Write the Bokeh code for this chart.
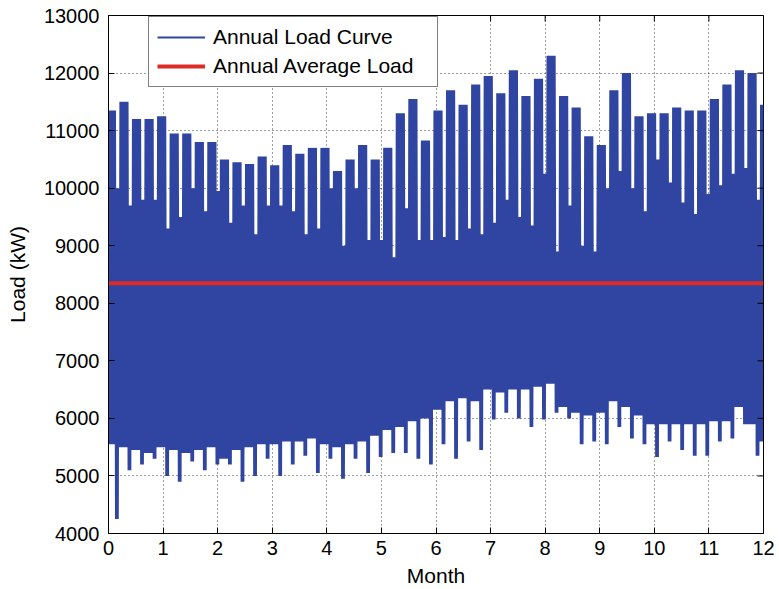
from bokeh.plotting import figure
from bokeh.models import Range1d, FixedTicker, Legend, LegendItem
from bokeh.embed import file_html
from bokeh.resources import INLINE

# ---- data (kW), one value per week (weeks start on Monday, day 0 is a Tuesday)
week_peak = [11350, 11500, 11200, 11200, 11250, 10950, 10950, 10800, 10800, 10500,
             10450, 10420, 10550, 10400, 10750, 10600, 10700, 10700, 10300, 10500,
             10750, 10500, 10700, 11300, 11550, 10830, 11350, 11700, 11450, 11800,
             11950, 11650, 12050, 11600, 11900, 12300, 11600, 11400, 10900, 10750,
             11700, 12000, 11250, 11300, 11300, 11400, 11350, 11350, 11550, 11800,
             12050, 12000, 11450]
weekend_peak = [10000, 9700, 9800, 9800, 9300, 9500, 10000, 9600, 9950, 9400,
                9700, 9200, 9700, 9700, 9600, 9200, 9300, 10000, 9000, 10000,
                9100, 9100, 8800, 9650, 9100, 9100, 9150, 9100, 9300, 9200,
                9400, 9800, 9500, 9350, 10250, 8900, 9700, 9000, 8900, 10000,
                10300, 10000, 9600, 10500, 10100, 9750, 9550, 9900, 10050, 10250,
                10350, 9800, 9800]
week_low = [5550, 5500, 5450, 5400, 5500, 5450, 5400, 5450, 5500, 5300,
            5450, 5500, 5550, 5550, 5600, 5600, 5650, 5550, 5500, 5550,
            5600, 5700, 5800, 5850, 5950, 6000, 6150, 6300, 6350, 6300,
            6500, 6450, 6500, 6500, 6550, 6600, 6200, 6100, 6050, 6100,
            6300, 6200, 6050, 5900, 5900, 5900, 5900, 5900, 5950, 5950,
            6200, 5900, 5600]
weekend_low = [4250, 5100, 5200, 5300, 5000, 4900, 5250, 5100, 5200, 5200,
               4900, 5000, 5300, 5000, 5200, 5350, 5050, 5300, 4950, 5300,
               5050, 5330, 5400, 5400, 5300, 5200, 5550, 5300, 5600, 5450,
               5980, 6100, 6000, 5850, 5980, 6100, 6000, 5550, 5600, 5550,
               5850, 5650, 5550, 5330, 5600, 5450, 5350, 5350, 5600, 5650,
               5900, 5350, 5400]
avg_load = 8350
month_ticks = list(range(0, 13))
load_ticks = list(range(4000, 13001, 1000))
n_days = 365

# daily trough (night) and peak (afternoon) points
xs, ys = [], []
for d in range(n_days):
    w = (d + 1) // 7
    weekend = (d + 1) % 7 >= 5
    lo = weekend_low[w] if weekend else week_low[w]
    hi = weekend_peak[w] if weekend else week_peak[w]
    xs += [(d + 0.17) * 12 / n_days, (d + 0.62) * 12 / n_days]
    ys += [lo, hi]

FONT = "Liberation Sans"

p = figure(width=779, height=589, output_backend="svg", toolbar_location=None,
           x_range=Range1d(month_ticks[0], month_ticks[-1]),
           y_range=Range1d(load_ticks[0], load_ticks[-1]),
           min_border_left=108, min_border_right=16, min_border_top=15, min_border_bottom=56)
p.background_fill_color = "white"
p.border_fill_color = "white"
p.outline_line_color = "black"
p.outline_line_width = 1

for ax, ticks in ((p.xaxis[0], month_ticks), (p.yaxis[0], load_ticks)):
    ax.ticker = FixedTicker(ticks=ticks)
    ax.major_tick_in = 6
    ax.major_tick_out = 0
    ax.minor_tick_in = 0
    ax.minor_tick_out = 0
    ax.axis_line_color = "black"
    ax.major_tick_line_color = "black"
    ax.major_label_text_font = FONT
    ax.major_label_text_font_size = "20px"
    ax.major_label_text_color = "black"
    ax.axis_label_text_font = FONT
    ax.axis_label_text_font_size = "21px"
    ax.axis_label_text_font_style = "normal"
    ax.axis_label_text_color = "black"

p.xaxis.axis_label = "Month"
p.yaxis.axis_label = "Load (kW)"
p.xaxis.major_label_standoff = 7
p.xaxis.axis_label_standoff = 6
p.yaxis.major_label_standoff = 9
p.yaxis.axis_label_standoff = 12

p.xgrid.ticker = FixedTicker(ticks=month_ticks)
p.ygrid.ticker = FixedTicker(ticks=load_ticks)
p.grid.grid_line_color = "black"
p.grid.grid_line_alpha = 0.75
p.grid.grid_line_dash = "1 3"
p.grid.grid_line_width = 1

r1 = p.line(xs, ys, line_color="#3045a1", line_width=2.0)
r2 = p.line([month_ticks[0], month_ticks[-1]], [avg_load, avg_load],
            line_color="#dd2c27", line_width=4)

# inward tick marks on the top and right edges of the box (half of each dash is clipped)
p.scatter(month_ticks, [load_ticks[-1]] * len(month_ticks), marker="dash", size=12,
          angle=1.5707963, line_color="black", line_width=1)
p.scatter([month_ticks[-1]] * len(load_ticks), load_ticks, marker="dash", size=12,
          line_color="black", line_width=1)

legend = Legend(items=[LegendItem(label="Annual Load Curve", renderers=[r1]),
                       LegendItem(label="Annual Average Load", renderers=[r2])],
                location=(40, 446), orientation="vertical",
                label_text_font=FONT, label_text_font_size="21px",
                label_text_color="black",
                glyph_width=48, glyph_height=20, label_standoff=8,
                label_height=20, label_width=216,
                padding=8, spacing=5, margin=0,
                border_line_color="black", border_line_width=1,
                background_fill_color="white", background_fill_alpha=1.0)
p.add_layout(legend, "center")

open("out.html", "w").write(file_html(p, INLINE))
